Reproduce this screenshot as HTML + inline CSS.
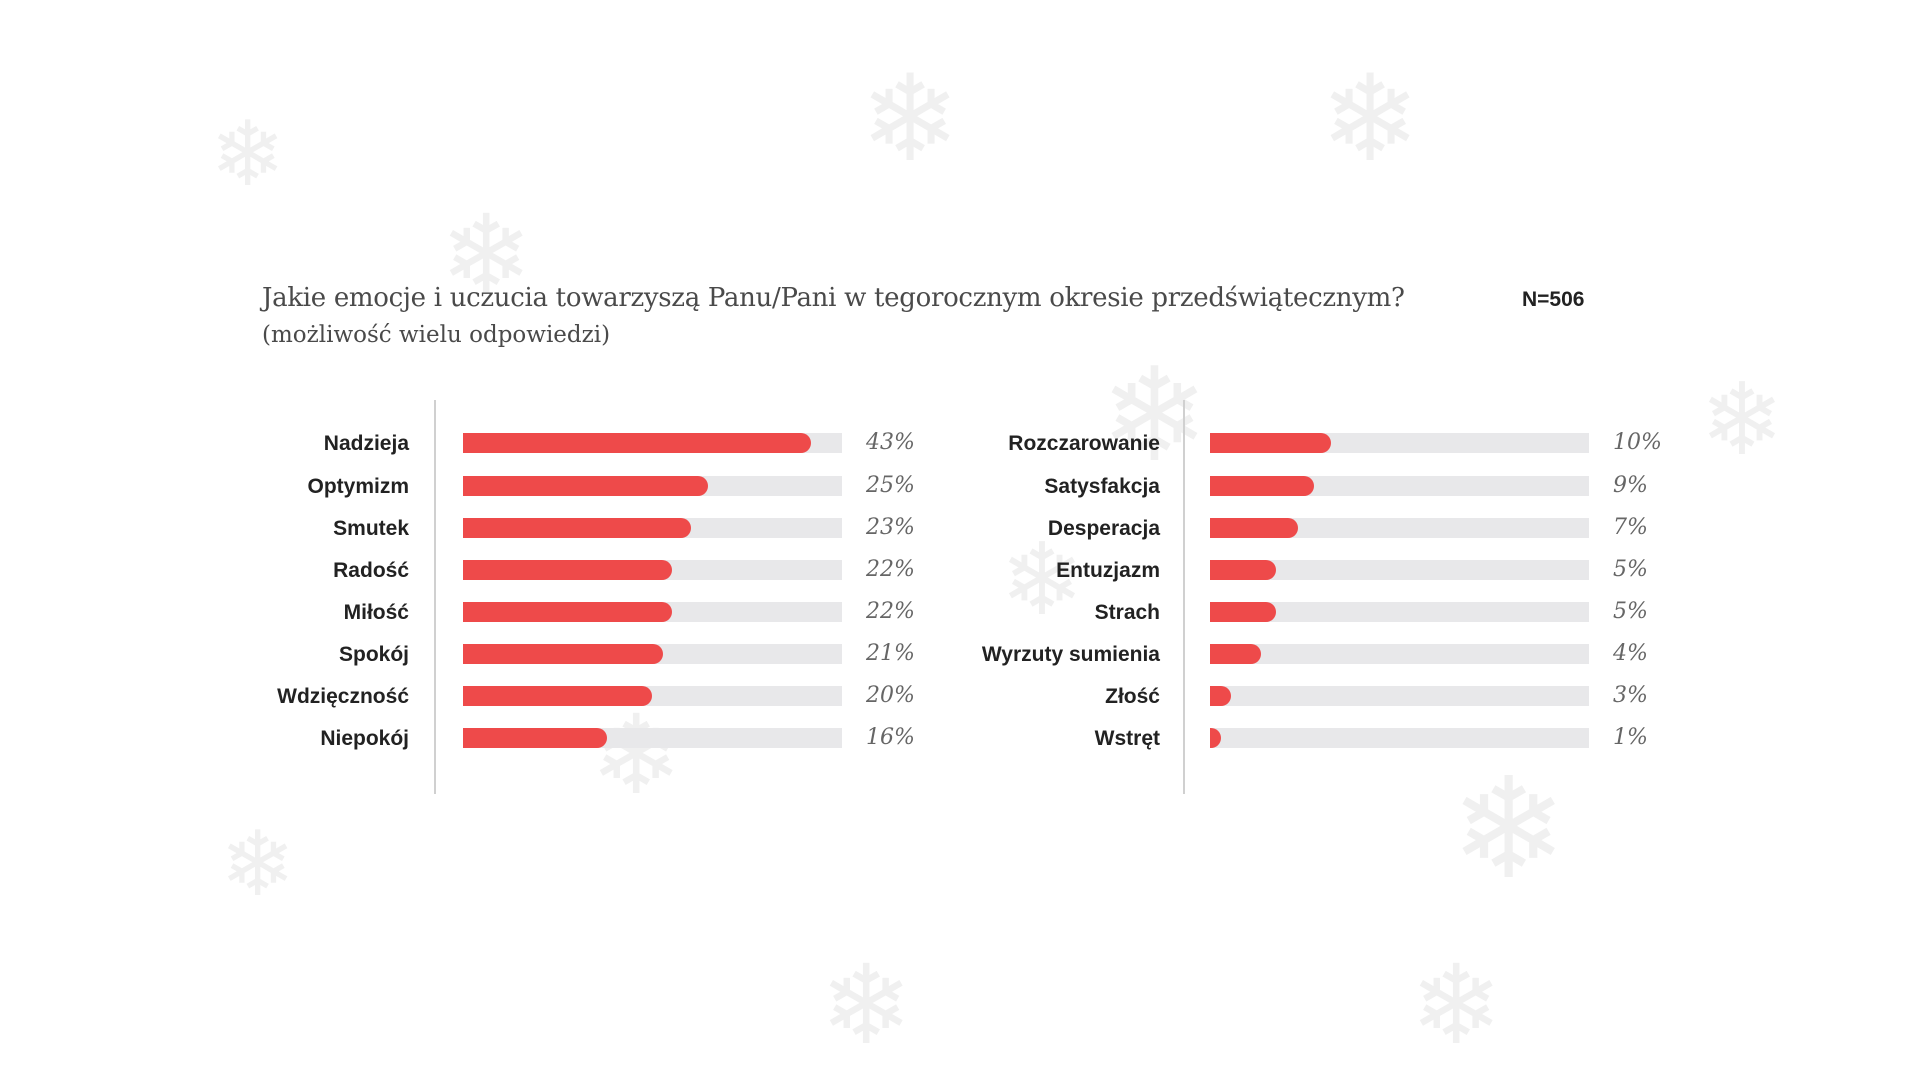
<!DOCTYPE html>
<html><head><meta charset="utf-8"><style>
body{margin:0;width:1920px;height:1080px;background:#fff;position:relative;overflow:hidden;font-family:"Liberation Sans",sans-serif}
.a{position:absolute}
.sf{position:absolute;color:#f0f0f0;font-family:"DejaVu Sans",sans-serif;line-height:1}
.t{left:262px;top:283px;font-family:"DejaVu Serif","Liberation Serif",serif;font-size:26px;color:#4a4a4a;white-space:nowrap;letter-spacing:-0.3px}
.s{left:262px;top:322px;font-family:"DejaVu Serif","Liberation Serif",serif;font-size:23px;color:#4a4a4a;white-space:nowrap}
.n{left:1522px;top:288px;font-weight:bold;font-size:21px;color:#222}
.lbl{position:absolute;text-align:right;font-weight:bold;font-size:21px;color:#222;width:300px;line-height:26px}
.trk{position:absolute;height:20px;background:#e8e8ea}
.fil{position:absolute;height:20px;background:#ee4a4a;border-radius:0 10px 10px 0}
.pct{position:absolute;font-family:"DejaVu Serif","Liberation Serif",serif;font-style:italic;font-size:22px;color:#666;line-height:26px}
.ax{position:absolute;width:2px;background:#d0d0d0;top:400px;height:394px}
</style></head><body>
<div class="sf" style="left:210px;top:110px;font-size:90px">❄</div>
<div class="sf" style="left:440px;top:200px;font-size:110px">❄</div>
<div class="sf" style="left:860px;top:60px;font-size:120px">❄</div>
<div class="sf" style="left:1320px;top:60px;font-size:120px">❄</div>
<div class="sf" style="left:1100px;top:350px;font-size:130px">❄</div>
<div class="sf" style="left:1450px;top:760px;font-size:140px">❄</div>
<div class="sf" style="left:590px;top:700px;font-size:110px">❄</div>
<div class="sf" style="left:220px;top:820px;font-size:90px">❄</div>
<div class="sf" style="left:820px;top:950px;font-size:110px">❄</div>
<div class="sf" style="left:1000px;top:530px;font-size:100px">❄</div>
<div class="sf" style="left:1700px;top:370px;font-size:100px">❄</div>
<div class="sf" style="left:1410px;top:950px;font-size:110px">❄</div>
<div class="a t">Jakie emocje i uczucia towarzyszą Panu/Pani w tegorocznym okresie przedświątecznym?</div>
<div class="a s">(możliwość wielu odpowiedzi)</div>
<div class="a n">N=506</div>
<div class="ax" style="left:434px"></div>
<div class="ax" style="left:1183px"></div>
<div id="c"></div>
<script>
var L=[["Nadzieja",348,"43%"],["Optymizm",245,"25%"],["Smutek",228,"23%"],["Radość",209,"22%"],["Miłość",209,"22%"],["Spokój",200,"21%"],["Wdzięczność",189,"20%"],["Niepokój",144,"16%"]];
var R=[["Rozczarowanie",121,"10%"],["Satysfakcja",104,"9%"],["Desperacja",88,"7%"],["Entuzjazm",66,"5%"],["Strach",66,"5%"],["Wyrzuty sumienia",51,"4%"],["Złość",21,"3%"],["Wstręt",11,"1%"]];
var Y=[443,486,528,570,612,654,696,738],h="";
function side(d,lr,tx,tw,px){d.forEach(function(r,i){var y=Y[i];
h+='<div class="lbl" style="left:'+(lr-300)+'px;top:'+(y-12)+'px">'+r[0]+'</div>';
h+='<div class="trk" style="left:'+tx+'px;top:'+(y-10)+'px;width:'+tw+'px"></div>';
h+='<div class="fil" style="left:'+tx+'px;top:'+(y-10)+'px;width:'+r[1]+'px"></div>';
h+='<div class="pct" style="left:'+px+'px;top:'+(y-13)+'px">'+r[2]+'</div>';});}
side(L,409,463,379,866);side(R,1160,1210,379,1613);
document.getElementById("c").innerHTML=h;
</script>
</body></html>
